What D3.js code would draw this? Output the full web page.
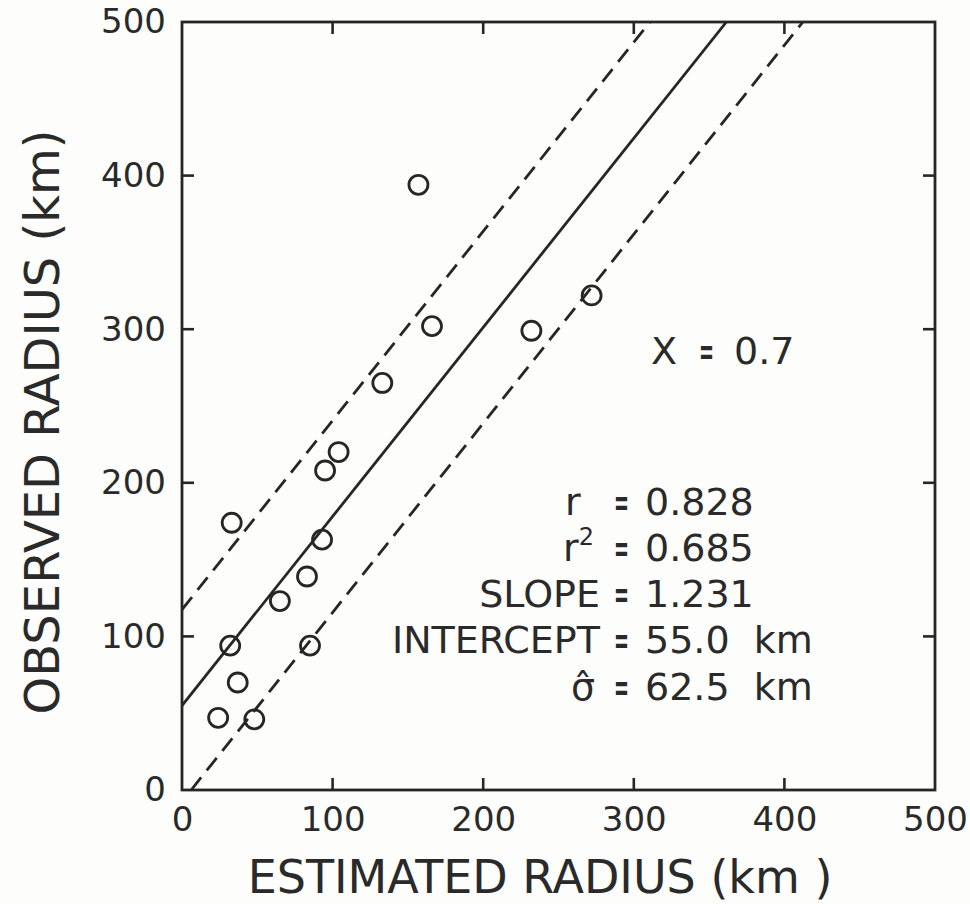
<!DOCTYPE html>
<html>
<head>
<meta charset="utf-8">
<script src="https://cdn.jsdelivr.net/npm/d3@7/dist/d3.min.js"></script>
<style>
  html, body { margin: 0; padding: 0; background: #fdfdfb; }
  svg { display: block; }
  text { font-family: "DejaVu Sans", sans-serif; fill: #2a2a2a; }
</style>
</head>
<body>
<svg id="chart" width="970" height="904"></svg>
<script>
// ---- data ----
const estimatedRadius = [33, 32, 37, 24, 48, 65, 83, 85, 93, 95, 104, 133, 157, 166, 232, 272];
const observedRadius  = [174, 94, 70, 47, 46, 123, 139, 94, 163, 208, 220, 265, 394, 302, 299, 322];
const xTicks = [0, 100, 200, 300, 400, 500];
const yTicks = [0, 100, 200, 300, 400, 500];
const fitSlope = 1.231;
const fitIntercept = 55.0;
const fitSigma = 62.5;
const statLabels = ["r", "r²", "SLOPE", "INTERCEPT", "σ̂"];
const statValues = ["0.828", "0.685", "1.231", "55.0  km", "62.5  km"];
const xParamText = ["X", "=", "0.7"];

(function () {
const svg = d3.select("#chart");
const mL = 182, mR = 935, mT = 22, mB = 790;
const x = d3.scaleLinear().domain([0, 500]).range([mL, mR]);
const y = d3.scaleLinear().domain([0, 500]).range([mB, mT]);
const ink = "#262626";

svg.append("defs").append("clipPath").attr("id", "plot")
  .append("rect").attr("x", mL).attr("y", mT).attr("width", mR - mL).attr("height", mB - mT);

function fitLine(a) {
  const x0 = Math.max(0, (0 - a) / fitSlope);
  const x1 = Math.min(500, (500 - a) / fitSlope);
  return [[x0, a + fitSlope * x0], [x1, a + fitSlope * x1]];
}
const line = d3.line().x(d => x(d[0])).y(d => y(d[1]));
const lines = [
  { a: fitIntercept, dash: null },
  { a: fitIntercept + fitSigma, dash: "16 9" },
  { a: fitIntercept - fitSigma, dash: "16 9" }
];
svg.append("g").attr("clip-path", "url(#plot)")
  .selectAll("path").data(lines).join("path")
  .attr("d", d => line(fitLine(d.a)))
  .attr("fill", "none").attr("stroke", ink).attr("stroke-width", 2.8)
  .attr("stroke-dasharray", d => d.dash);

svg.append("g").selectAll("circle").data(estimatedRadius).join("circle")
  .attr("cx", d => x(d))
  .attr("cy", (d, i) => y(observedRadius[i]))
  .attr("r", 9.5)
  .attr("fill", "none").attr("stroke", ink).attr("stroke-width", 2.8);

const tickLen = 12;
const inner = [100, 200, 300, 400];
const axB = svg.append("g").attr("transform", `translate(0,${mB})`)
  .call(d3.axisBottom(x).tickValues(xTicks).tickSize(0).tickPadding(26).tickFormat(d3.format("d")));
const axL = svg.append("g").attr("transform", `translate(${mL},0)`)
  .call(d3.axisLeft(y).tickValues(yTicks).tickSize(0).tickPadding(16).tickFormat(d3.format("d")));
[axB, axL].forEach(g => {
  g.select(".domain").remove();
  g.selectAll("text").attr("font-size", 34).attr("fill", ink)
    .style("font-family", "'DejaVu Sans', sans-serif");
});
axB.selectAll("text").attr("dy", "0.45em");

const tk = svg.append("g").attr("stroke", ink).attr("stroke-width", 2.6);
inner.forEach(v => {
  tk.append("line").attr("x1", x(v)).attr("x2", x(v)).attr("y1", mB).attr("y2", mB - tickLen);
  tk.append("line").attr("x1", x(v)).attr("x2", x(v)).attr("y1", mT).attr("y2", mT + tickLen);
  tk.append("line").attr("y1", y(v)).attr("y2", y(v)).attr("x1", mL).attr("x2", mL + tickLen);
  tk.append("line").attr("y1", y(v)).attr("y2", y(v)).attr("x1", mR).attr("x2", mR - tickLen);
});

svg.append("rect").attr("x", mL).attr("y", mT).attr("width", mR - mL).attr("height", mB - mT)
  .attr("fill", "none").attr("stroke", ink).attr("stroke-width", 2.8);

svg.append("text").attr("x", 540).attr("y", 893).attr("text-anchor", "middle")
  .attr("font-size", 46).text("ESTIMATED RADIUS (km )");
svg.append("text").attr("transform", "translate(59,422) rotate(-90)").attr("text-anchor", "middle")
  .attr("font-size", 48).text("OBSERVED RADIUS (km)");

function eq(g, xp, yp) {
  g.append("text").attr("x", xp).attr("y", yp).attr("font-weight", "bold")
    .attr("textLength", 15).attr("lengthAdjust", "spacingAndGlyphs").text("=");
}

const xg = svg.append("g").attr("font-size", 38);
xg.append("text").attr("x", 651).attr("y", 364).text(xParamText[0]);
eq(xg, 699, 364);
xg.append("text").attr("x", 734).attr("y", 364).text(xParamText[2]);

const labelX = [565, 563, null, null, 571];
const rowY = [515, 561, 607, 653, 700];
const st = svg.append("g").attr("font-size", 38);
statLabels.forEach((s, i) => {
  const t = st.append("text").attr("y", rowY[i]);
  if (labelX[i] == null) {
    t.attr("x", 600).attr("text-anchor", "end").text(s);
  } else if (i === 1) {
    t.attr("x", labelX[i]);
    t.append("tspan").text("r");
    t.append("tspan").attr("font-size", 24).attr("dy", -16).text("2");
  } else {
    t.attr("x", labelX[i]).text(s);
  }
  eq(st, 614, rowY[i]);
  st.append("text").attr("x", 645).attr("y", rowY[i]).style("white-space", "pre").text(statValues[i]);
});
})();
</script>
</body>
</html>
